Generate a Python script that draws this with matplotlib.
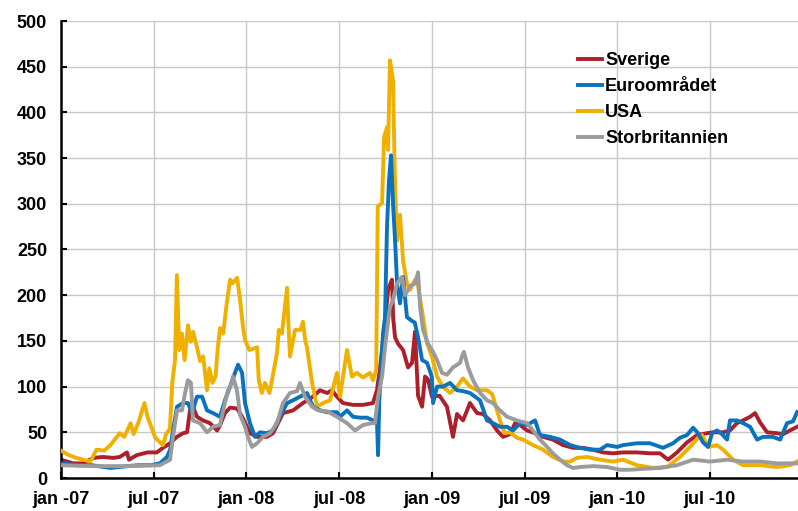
import numpy as np
import matplotlib
matplotlib.use("Agg")
import matplotlib.pyplot as plt

plt.rcParams['font.family'] = ['Liberation Sans', 'DejaVu Sans']
plt.rcParams['font.weight'] = 'bold'

# Månader från jan -07, avlästa värden (räntespread, punkter)
sverige = [(0, 20), (0.8, 16), (1.4, 16), (2.1, 22), (2.7, 23), (3.4, 22), (3.8, 23), (4.27, 28),
           (4.4, 20), (4.9, 25), (5.6, 28), (6.2, 28), (6.6, 33), (7.06, 38), (7.5, 45), (7.9, 49),
           (8.16, 50), (8.35, 74), (8.54, 78), (8.8, 67), (9.19, 63), (9.64, 60), (10.1, 52), (10.3, 58),
           (10.61, 71), (10.94, 77), (11.39, 76), (11.72, 67), (12.04, 56), (12.23, 49), (12.69, 45),
           (13.33, 45), (13.72, 49), (14.37, 71), (15.02, 74), (15.66, 82), (16.31, 89), (16.76, 96),
           (17.22, 93), (17.54, 96), (17.86, 89), (18.25, 82), (18.9, 80), (19.55, 80), (20.19, 82),
           (20.45, 96), (20.65, 121), (20.97, 170), (21.17, 206), (21.42, 217), (21.5, 175), (21.62, 154),
           (21.81, 147), (22.14, 140), (22.46, 121), (22.72, 126), (22.91, 160), (23.11, 90), (23.37, 78),
           (23.56, 111), (23.75, 108), (24.01, 89), (24.5, 90), (24.98, 78), (25.37, 45), (25.63, 70),
           (26.02, 63), (26.47, 82), (26.93, 71), (27.31, 70), (27.77, 63), (28.22, 52), (28.61, 45),
           (29.06, 48), (29.39, 60), (29.71, 58), (30.16, 52), (30.68, 49), (31.2, 45), (31.84, 42),
           (32.49, 36), (33.14, 33), (33.79, 33), (34.43, 31), (35.08, 28), (35.73, 27), (36.38, 28),
           (37.28, 28), (38.12, 27), (38.77, 27), (39.29, 20), (39.87, 28), (40.52, 39), (41.17, 47),
           (41.81, 49), (42.2, 50), (42.85, 50), (43.3, 52), (43.75, 60), (44.14, 63), (44.6, 67),
           (44.92, 71), (45.24, 61), (45.7, 50), (46.34, 49), (46.73, 48), (47.18, 52), (47.64, 56)]

euro = [(0, 16), (1.0, 14), (2.0, 14), (3.2, 11), (4.3, 13), (5.0, 14), (5.8, 14), (6.4, 16),
        (6.86, 23), (7.06, 31), (7.25, 52), (7.51, 78), (7.9, 82), (8.22, 82), (8.48, 71), (8.8, 89),
        (9.13, 89), (9.45, 74), (9.84, 71), (10.29, 67), (10.61, 85), (10.94, 100), (11.26, 115),
        (11.46, 124), (11.72, 115), (11.91, 82), (12.23, 60), (12.56, 45), (12.88, 50), (13.33, 49),
        (13.72, 52), (14.17, 67), (14.63, 82), (15.02, 85), (15.47, 89), (15.92, 93), (16.31, 78),
        (16.76, 74), (17.22, 72), (17.86, 72), (18.06, 67), (18.51, 74), (18.9, 67), (19.35, 66),
        (19.81, 66), (20.19, 63), (20.45, 62), (20.52, 25), (20.6, 85), (20.84, 158), (20.97, 176),
        (21.1, 275), (21.23, 326), (21.36, 353), (21.49, 300), (21.62, 260), (21.75, 213), (21.94, 191),
        (22.14, 220), (22.39, 176), (22.7, 172), (22.9, 170), (23.11, 154), (23.37, 129), (23.69, 126),
        (24.0, 111), (24.08, 82), (24.34, 100), (24.72, 100), (25.18, 104), (25.63, 96), (26.02, 95),
        (26.47, 93), (27.12, 85), (27.57, 63), (27.96, 60), (28.41, 56), (28.87, 56), (29.26, 52),
        (29.71, 60), (30.16, 58), (30.68, 63), (31.0, 47), (31.65, 45), (32.3, 42), (32.95, 36),
        (33.59, 33), (34.24, 31), (34.89, 31), (35.34, 36), (35.99, 34), (36.38, 36), (37.28, 38),
        (38.12, 38), (38.96, 33), (39.61, 38), (40.06, 44), (40.52, 47), (40.91, 55), (41.23, 49),
        (41.55, 39), (41.88, 34), (42.14, 49), (42.46, 52), (42.78, 48), (43.11, 42), (43.3, 63),
        (43.75, 63), (44.14, 60), (44.6, 56), (45.05, 42), (45.44, 45), (46.08, 45), (46.54, 42),
        (46.99, 60), (47.38, 62), (47.64, 72)]

usa = [(0, 30), (0.5, 25), (1.0, 22), (1.9, 18), (2.3, 31), (2.8, 30), (3.2, 36), (3.8, 49),
       (4.1, 45), (4.5, 60), (4.7, 48), (5.0, 60), (5.4, 82), (5.6, 67), (6.1, 44), (6.6, 36),
       (6.8, 48), (7.05, 54), (7.2, 104), (7.38, 129), (7.5, 222), (7.65, 140), (7.83, 158), (8.0, 129),
       (8.22, 167), (8.4, 149), (8.55, 160), (8.8, 143), (9.0, 128), (9.2, 133), (9.45, 96), (9.6, 120),
       (9.8, 104), (10.0, 111), (10.15, 143), (10.3, 164), (10.5, 158), (10.74, 193), (10.95, 217),
       (11.1, 213), (11.4, 219), (11.59, 195), (11.78, 165), (11.91, 151), (12.2, 140), (12.69, 143),
       (12.8, 107), (13.0, 93), (13.2, 104), (13.5, 93), (13.98, 137), (14.1, 162), (14.3, 158),
       (14.63, 208), (14.7, 176), (14.82, 133), (15.15, 162), (15.5, 162), (15.66, 171), (15.8, 151),
       (15.92, 143), (16.25, 104), (16.57, 78), (16.96, 82), (17.41, 85), (17.86, 115), (18.06, 89),
       (18.51, 140), (18.83, 111), (19.16, 115), (19.55, 110), (20.0, 115), (20.19, 107), (20.4, 118),
       (20.5, 297), (20.78, 301), (20.91, 373), (21.1, 384), (21.17, 359), (21.29, 457), (21.49, 435),
       (21.6, 334), (21.75, 260), (21.94, 288), (22.14, 238), (22.39, 213), (22.59, 206), (22.91, 217),
       (23.11, 210), (23.43, 176), (23.69, 147), (24.01, 133), (24.34, 111), (24.72, 100), (25.18, 93),
       (25.63, 100), (26.02, 109), (26.47, 100), (26.93, 96), (27.57, 96), (27.9, 92), (28.22, 74),
       (28.54, 56), (28.74, 49), (29.06, 50), (29.51, 44), (29.9, 42), (30.55, 36), (31.2, 31),
       (31.84, 23), (32.49, 18), (32.95, 18), (33.4, 22), (34.05, 23), (34.89, 20), (35.73, 18),
       (36.38, 20), (37.28, 14), (38.32, 11), (39.22, 12), (40.06, 23), (40.71, 34), (41.23, 44),
       (41.49, 47), (41.88, 34), (42.46, 36), (42.85, 31), (43.5, 20), (44.14, 14), (45.24, 14),
       (46.34, 12), (47.18, 14), (47.64, 18)]

storbritannien = [(0, 14), (2.0, 13), (4.3, 13), (6.4, 14), (7.06, 20), (7.25, 45), (7.51, 74),
                  (7.83, 74), (8.03, 93), (8.22, 107), (8.41, 104), (8.54, 63), (9.0, 60), (9.45, 50),
                  (9.84, 56), (10.29, 58), (10.61, 82), (10.81, 96), (11.07, 104), (11.13, 111),
                  (11.39, 96), (11.59, 69), (11.91, 56), (12.1, 45), (12.36, 34), (12.69, 38),
                  (13.07, 45), (13.53, 49), (13.98, 60), (14.37, 82), (14.82, 93), (15.28, 95),
                  (15.47, 104), (15.79, 89), (16.25, 78), (16.63, 74), (17.22, 73), (17.86, 67),
                  (18.51, 60), (19.03, 52), (19.55, 58), (20.13, 60), (20.32, 60), (20.52, 89),
                  (20.78, 111), (20.97, 143), (21.29, 187), (21.49, 195), (21.75, 213), (22.07, 220),
                  (22.27, 200), (22.59, 210), (22.91, 213), (23.11, 225), (23.24, 187), (23.43, 162),
                  (23.75, 147), (24.01, 140), (24.34, 129), (24.66, 115), (24.98, 113), (25.37, 121),
                  (25.83, 126), (25.95, 133), (26.08, 138), (26.34, 121), (26.67, 107), (27.12, 93),
                  (27.57, 85), (27.96, 82), (28.41, 74), (28.87, 67), (29.51, 63), (30.16, 60),
                  (30.55, 52), (31.0, 42), (31.46, 34), (31.84, 27), (32.3, 20), (32.75, 14),
                  (33.14, 11), (33.59, 12), (34.43, 13), (35.34, 12), (36.18, 9), (36.83, 9),
                  (37.67, 10), (38.77, 11), (39.87, 14), (40.91, 20), (42.01, 18), (43.11, 20),
                  (44.14, 18), (45.24, 18), (46.34, 16), (47.64, 16)]

tick_months = [0, 6, 12, 18, 24, 30, 36, 42]
tick_labels = ['jan -07', 'jul -07', 'jan -08', 'jul -08', 'jan -09', 'jul -09', 'jan -10', 'jul -10']

series = [('Sverige', sverige, '#AD1F2A', 2),
          ('Euroområdet', euro, '#0A72BE', 4),
          ('USA', usa, '#EFB000', 3),
          ('Storbritannien', storbritannien, '#9B9B9B', 5)]

fig = plt.figure(figsize=(7.98, 5.11), dpi=100)
ax = fig.add_axes([61/798, 33/511, 737/798, 457/511])

for name, pts, col, z in series:
    arr = np.array(pts, dtype=float)
    ax.plot(arr[:, 0], arr[:, 1], color=col, lw=2.8, label=name, zorder=z,
            solid_joinstyle='round')

ax.set_xlim(0, 47.7)
ax.set_ylim(0, 500)
ax.set_yticks(np.arange(0, 501, 50))
ax.set_xticks(tick_months)
ax.set_xticklabels(tick_labels)

ax.grid(True, color='#c8c8c8', lw=1.0, zorder=0)
ax.set_axisbelow(True)
for s in ['top', 'right']:
    ax.spines[s].set_visible(False)
for s in ['left', 'bottom']:
    ax.spines[s].set_linewidth(1.8)
    ax.spines[s].set_color('black')

ax.tick_params(axis='both', direction='in', length=4, width=1.5, labelsize=13, colors='black')
ax.tick_params(axis='x', pad=9)
ax.tick_params(axis='y', pad=10)
for lab in ax.get_xticklabels() + ax.get_yticklabels():
    lab.set_fontweight('bold')

leg = ax.legend(loc='upper left', bbox_to_anchor=(578/798, 1 - 52/511), bbox_transform=fig.transFigure,
                frameon=False, fontsize=13, handlelength=1.35, handletextpad=0.15,
                labelspacing=0.5, borderpad=0, borderaxespad=0)
for line in leg.get_lines():
    line.set_linewidth(2.8)
for t in leg.get_texts():
    t.set_fontweight('bold')

fig.savefig('out.png', dpi=100)
